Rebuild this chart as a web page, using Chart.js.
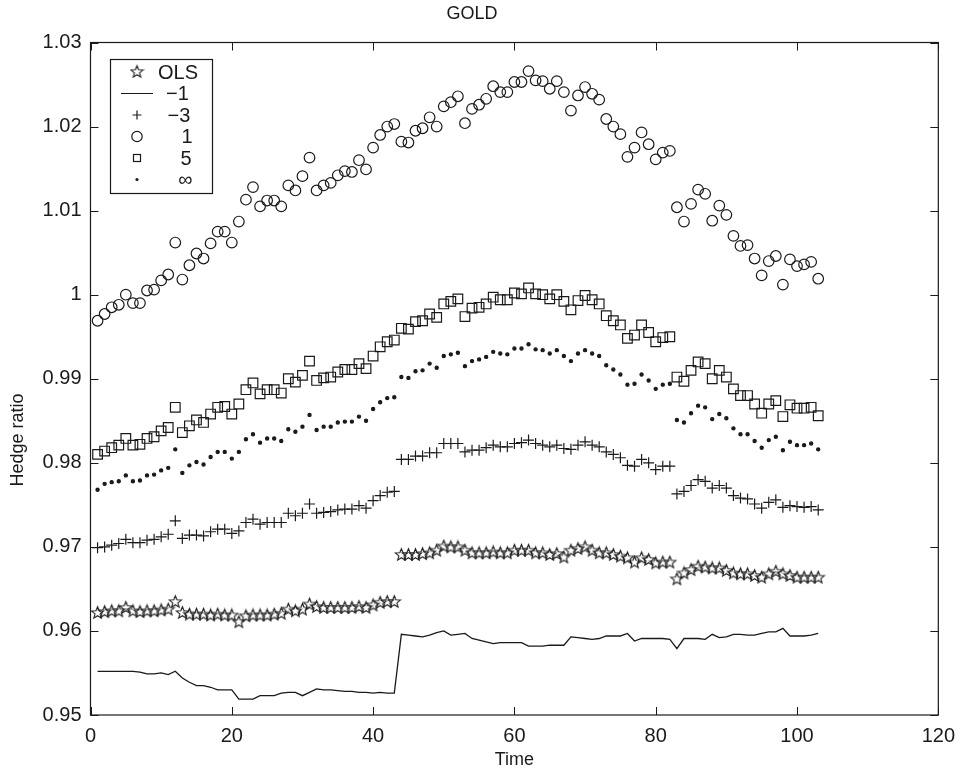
<!DOCTYPE html>
<html>
<head>
<meta charset="utf-8">
<title>GOLD</title>
<script src="https://cdn.jsdelivr.net/npm/chart.js@4/dist/chart.umd.min.js"></script>
<style>
  html, body { margin: 0; padding: 0; background: #fff; }
  #chart { display: block; }
</style>
</head>
<body>
<canvas id="chart" width="964" height="774"></canvas>
<script>
// 時刻 (x軸)
const timeIndex = [
  1, 2, 3, 4, 5, 6, 7, 8, 9, 10, 11, 12, 13, 14, 15, 16, 17, 18, 19, 20,
  21, 22, 23, 24, 25, 26, 27, 28, 29, 30, 31, 32, 33, 34, 35, 36, 37, 38, 39, 40,
  41, 42, 43, 44, 45, 46, 47, 48, 49, 50, 51, 52, 53, 54, 55, 56, 57, 58, 59, 60,
  61, 62, 63, 64, 65, 66, 67, 68, 69, 70, 71, 72, 73, 74, 75, 76, 77, 78, 79, 80,
  81, 82, 83, 84, 85, 86, 87, 88, 89, 90, 91, 92, 93, 94, 95, 96, 97, 98, 99, 100,
  101, 102, 103
];

// OLS (星)
const olsRatio = [
  0.9622, 0.9623, 0.9624, 0.9624, 0.9628, 0.9624, 0.9623, 0.9624, 0.9624, 0.9625,
  0.9626, 0.9635, 0.9622, 0.9620, 0.9620, 0.9620, 0.9619, 0.9620, 0.9619, 0.9619,
  0.9611, 0.9618, 0.9619, 0.9619, 0.9619, 0.9620, 0.9621, 0.9626, 0.9624, 0.9626,
  0.9632, 0.9629, 0.9628, 0.9628, 0.9628, 0.9628, 0.9628, 0.9629, 0.9628, 0.9631,
  0.9634, 0.9635, 0.9635, 0.9691, 0.9691, 0.9691, 0.9692, 0.9693, 0.9696, 0.9701,
  0.9700, 0.9700, 0.9696, 0.9693, 0.9693, 0.9693, 0.9694, 0.9693, 0.9693, 0.9696,
  0.9696, 0.9696, 0.9693, 0.9693, 0.9691, 0.9692, 0.9688, 0.9696, 0.9698, 0.9700,
  0.9696, 0.9693, 0.9693, 0.9691, 0.9689, 0.9687, 0.9682, 0.9687, 0.9685, 0.9681,
  0.9682, 0.9682, 0.9662, 0.9669, 0.9673, 0.9677, 0.9676, 0.9675, 0.9675, 0.9672,
  0.9669, 0.9668, 0.9668, 0.9666, 0.9664, 0.9668, 0.9671, 0.9668, 0.9666, 0.9664,
  0.9664, 0.9664, 0.9664
];

// −1 (実線)
const ratioM1 = [
  0.9552, 0.9552, 0.9552, 0.9552, 0.9552, 0.9552, 0.9551, 0.9549, 0.9549, 0.9550,
  0.9548, 0.9552, 0.9544, 0.9539, 0.9535, 0.9535, 0.9533, 0.9530, 0.9530, 0.9530,
  0.9519, 0.9519, 0.9519, 0.9523, 0.9523, 0.9523, 0.9526, 0.9527, 0.9527, 0.9523,
  0.9527, 0.9531, 0.9530, 0.9530, 0.9529, 0.9528, 0.9528, 0.9527, 0.9527, 0.9526,
  0.9527, 0.9526, 0.9526, 0.9596, 0.9595, 0.9594, 0.9593, 0.9595, 0.9598, 0.9600,
  0.9595, 0.9596, 0.9597, 0.9591, 0.9589, 0.9587, 0.9585, 0.9586, 0.9586, 0.9586,
  0.9586, 0.9582, 0.9582, 0.9582, 0.9583, 0.9583, 0.9583, 0.9593, 0.9592, 0.9591,
  0.9590, 0.9591, 0.9594, 0.9594, 0.9594, 0.9597, 0.9588, 0.9591, 0.9591, 0.9591,
  0.9591, 0.9590, 0.9579, 0.9591, 0.9591, 0.9591, 0.9590, 0.9596, 0.9592, 0.9593,
  0.9596, 0.9596, 0.9595, 0.9595, 0.9597, 0.9599, 0.9599, 0.9603, 0.9594, 0.9594,
  0.9594, 0.9595, 0.9597
];

// −3 (十字)
const ratioM3 = [
  0.9699, 0.9700, 0.9702, 0.9704, 0.9709, 0.9705, 0.9705, 0.9708, 0.9709, 0.9712,
  0.9715, 0.9731, 0.9710, 0.9714, 0.9714, 0.9713, 0.9718, 0.9721, 0.9721, 0.9716,
  0.9719, 0.9729, 0.9733, 0.9727, 0.9729, 0.9729, 0.9729, 0.9740, 0.9737, 0.9740,
  0.9751, 0.9740, 0.9741, 0.9742, 0.9744, 0.9745, 0.9745, 0.9749, 0.9746, 0.9755,
  0.9761, 0.9765, 0.9766, 0.9804, 0.9804, 0.9808, 0.9808, 0.9812, 0.9812, 0.9823,
  0.9823, 0.9823, 0.9813, 0.9815, 0.9815, 0.9818, 0.9821, 0.9819, 0.9819, 0.9823,
  0.9824, 0.9827, 0.9823, 0.9821, 0.9819, 0.9821, 0.9817, 0.9816, 0.9821, 0.9825,
  0.9821, 0.9819, 0.9813, 0.9810, 0.9806, 0.9797, 0.9796, 0.9804, 0.9800, 0.9792,
  0.9796, 0.9796, 0.9763, 0.9766, 0.9773, 0.9780, 0.9778, 0.9770, 0.9773, 0.9770,
  0.9761, 0.9758, 0.9757, 0.9751, 0.9746, 0.9753, 0.9756, 0.9747, 0.9749, 0.9748,
  0.9747, 0.9748, 0.9744
];

// 1 (丸)
const ratioP1 = [
  0.9969, 0.9977, 0.9985, 0.9988, 1.0000, 0.9990, 0.9990, 1.0005, 1.0006, 1.0017,
  1.0024, 1.0062, 1.0018, 1.0035, 1.0049, 1.0043, 1.0061, 1.0075, 1.0075, 1.0062,
  1.0087, 1.0113, 1.0128, 1.0105, 1.0112, 1.0112, 1.0105, 1.0130, 1.0124, 1.0141,
  1.0163, 1.0124, 1.0130, 1.0133, 1.0142, 1.0147, 1.0146, 1.0160, 1.0149, 1.0175,
  1.0190, 1.0200, 1.0203, 1.0182, 1.0181, 1.0195, 1.0198, 1.0211, 1.0200, 1.0224,
  1.0229, 1.0236, 1.0204, 1.0221, 1.0226, 1.0233, 1.0248, 1.0241, 1.0241, 1.0253,
  1.0253, 1.0266, 1.0255, 1.0254, 1.0245, 1.0254, 1.0241, 1.0219, 1.0237, 1.0247,
  1.0239, 1.0232, 1.0209, 1.0200, 1.0191, 1.0164, 1.0175, 1.0193, 1.0179, 1.0161,
  1.0169, 1.0171, 1.0104, 1.0087, 1.0108, 1.0125, 1.0120, 1.0088, 1.0106, 1.0095,
  1.0070, 1.0058, 1.0059, 1.0043, 1.0023, 1.0040, 1.0046, 1.0012, 1.0042, 1.0034,
  1.0036, 1.0039, 1.0019
];

// 5 (四角)
const ratioP5 = [
  0.9810, 0.9814, 0.9818, 0.9821, 0.9829, 0.9821, 0.9822, 0.9829, 0.9831, 0.9838,
  0.9842, 0.9866, 0.9836, 0.9844, 0.9851, 0.9848, 0.9858, 0.9866, 0.9867, 0.9858,
  0.9870, 0.9887, 0.9895, 0.9882, 0.9887, 0.9887, 0.9883, 0.9900, 0.9896, 0.9904,
  0.9921, 0.9898, 0.9901, 0.9902, 0.9908, 0.9911, 0.9911, 0.9918, 0.9912, 0.9927,
  0.9938, 0.9944, 0.9946, 0.9960, 0.9959, 0.9968, 0.9969, 0.9977, 0.9973, 0.9989,
  0.9992, 0.9995, 0.9974, 0.9984, 0.9985, 0.9989, 0.9997, 0.9994, 0.9994, 1.0002,
  1.0001, 1.0008, 1.0001, 1.0000, 0.9995, 1.0000, 0.9992, 0.9982, 0.9993, 0.9999,
  0.9994, 0.9989, 0.9975, 0.9969, 0.9964, 0.9948, 0.9952, 0.9964, 0.9955, 0.9944,
  0.9949, 0.9950, 0.9902, 0.9897, 0.9910, 0.9920, 0.9918, 0.9900, 0.9910, 0.9902,
  0.9888, 0.9880, 0.9880, 0.9870, 0.9859, 0.9870, 0.9874, 0.9855, 0.9869, 0.9865,
  0.9865, 0.9866, 0.9856
];

// ∞ (点)
const ratioInf = [
  0.9768, 0.9775, 0.9777, 0.9778, 0.9785, 0.9778, 0.9779, 0.9785, 0.9786, 0.9791,
  0.9794, 0.9816, 0.9788, 0.9797, 0.9801, 0.9798, 0.9807, 0.9813, 0.9813, 0.9805,
  0.9813, 0.9828, 0.9834, 0.9824, 0.9829, 0.9829, 0.9826, 0.9840, 0.9837, 0.9843,
  0.9857, 0.9839, 0.9843, 0.9843, 0.9848, 0.9849, 0.9849, 0.9855, 0.9850, 0.9864,
  0.9872, 0.9877, 0.9878, 0.9902, 0.9901, 0.9909, 0.9910, 0.9918, 0.9913, 0.9927,
  0.9929, 0.9931, 0.9915, 0.9921, 0.9923, 0.9926, 0.9932, 0.9930, 0.9929, 0.9936,
  0.9936, 0.9941, 0.9935, 0.9934, 0.9930, 0.9934, 0.9927, 0.9921, 0.9930, 0.9934,
  0.9930, 0.9927, 0.9916, 0.9911, 0.9905, 0.9893, 0.9894, 0.9905, 0.9898, 0.9888,
  0.9893, 0.9894, 0.9851, 0.9848, 0.9859, 0.9868, 0.9866, 0.9852, 0.9858, 0.9853,
  0.9841, 0.9834, 0.9834, 0.9826, 0.9818, 0.9827, 0.9831, 0.9815, 0.9825, 0.9821,
  0.9821, 0.9823, 0.9816
];

// 凡例ラベル
const legendLabels = ['OLS', '\u22121', '\u22123', '1', '5', '\u221E'];

const ink = '#1a1a1a';
const fontFamily = "'Liberation Sans', Arial, Helvetica, sans-serif";
Chart.defaults.font.family = fontFamily;
Chart.defaults.color = ink;

// 星マーカーを自前で作る(Chart.jsの'star'は五芒星じゃないので)
function makeStar() {
  const c = document.createElement('canvas');
  c.width = 15;
  c.height = 15;
  const g = c.getContext('2d');
  g.strokeStyle = ink;
  g.lineWidth = 1.1;
  g.lineJoin = 'miter';
  g.beginPath();
  for (let i = 0; i < 10; i++) {
    const r = i % 2 ? 2.7 : 6.3;
    const a = -Math.PI / 2 + i * Math.PI / 5;
    const px = 7.5 + r * Math.cos(a);
    const py = 8 + r * Math.sin(a);
    if (i === 0) g.moveTo(px, py); else g.lineTo(px, py);
  }
  g.closePath();
  g.stroke();
  return c;
}
const starImg = makeStar();

function markerSet(label, values, style, radius, fill) {
  return {
    label: label,
    data: values,
    showLine: false,
    pointStyle: style,
    pointRadius: radius,
    pointBorderWidth: 1.2,
    pointBorderColor: ink,
    pointBackgroundColor: fill || 'rgba(0,0,0,0)',
    pointHoverRadius: radius
  };
}

const datasets = [
  markerSet(legendLabels[0], olsRatio, starImg, 6),
  {
    label: legendLabels[1],
    data: ratioM1,
    borderColor: ink,
    borderWidth: 1.3,
    pointRadius: 0,
    tension: 0
  },
  markerSet(legendLabels[2], ratioM3, 'cross', 5.5),
  markerSet(legendLabels[3], ratioP1, 'circle', 5.3),
  markerSet(legendLabels[4], ratioP5, 'rect', 6.8),
  markerSet(legendLabels[5], ratioInf, 'circle', 1.6, ink)
];

// 枠・内向きの目盛り・縦軸ラベル・凡例を描くプラグイン
const frame = {
  id: 'frame',
  afterDraw(chart) {
    const { ctx, chartArea: a, scales } = chart;
    const t = 8;
    ctx.save();
    ctx.strokeStyle = ink;
    ctx.lineWidth = 1.2;
    ctx.strokeRect(a.left, a.top, a.right - a.left, a.bottom - a.top);
    ctx.lineWidth = 1;
    ctx.beginPath();
    scales.x.ticks.forEach(tk => {
      const x = Math.round(scales.x.getPixelForValue(tk.value)) + 0.5;
      ctx.moveTo(x, a.bottom); ctx.lineTo(x, a.bottom - t);
      ctx.moveTo(x, a.top); ctx.lineTo(x, a.top + t);
    });
    scales.y.ticks.forEach(tk => {
      const y = Math.round(scales.y.getPixelForValue(tk.value)) + 0.5;
      ctx.moveTo(a.left, y); ctx.lineTo(a.left + t, y);
      ctx.moveTo(a.right, y); ctx.lineTo(a.right - t, y);
    });
    ctx.stroke();

    // 縦軸ラベル(少し下寄せ)
    ctx.save();
    ctx.translate(18, 440);
    ctx.rotate(-Math.PI / 2);
    ctx.fillStyle = ink;
    ctx.font = '18px ' + fontFamily;
    ctx.textAlign = 'center';
    ctx.textBaseline = 'middle';
    ctx.fillText('Hedge ratio', 0, 0);
    ctx.restore();

    // 凡例
    const bx = 110.5, by = 59.5, bw = 102, bh = 134;
    ctx.fillStyle = '#fff';
    ctx.fillRect(bx, by, bw, bh);
    ctx.strokeStyle = ink;
    ctx.lineWidth = 1.2;
    ctx.strokeRect(bx, by, bw, bh);
    const rows = [72, 93.5, 115, 136.5, 158, 179.5];
    const sx = 137;
    // 記号
    ctx.drawImage(starImg, sx - 7.5, rows[0] - 8);
    ctx.beginPath();
    ctx.moveTo(121, rows[1]); ctx.lineTo(153, rows[1]);
    ctx.moveTo(sx - 4.5, rows[2]); ctx.lineTo(sx + 4.5, rows[2]);
    ctx.moveTo(sx, rows[2] - 4.5); ctx.lineTo(sx, rows[2] + 4.5);
    ctx.stroke();
    ctx.beginPath();
    ctx.arc(sx, rows[3], 5.2, 0, Math.PI * 2);
    ctx.stroke();
    ctx.strokeRect(sx - 3.5, rows[4] - 3.5, 7, 7);
    ctx.beginPath();
    ctx.arc(sx, rows[5], 1.6, 0, Math.PI * 2);
    ctx.fillStyle = ink;
    ctx.fill();
    // 文字
    ctx.fillStyle = ink;
    ctx.font = '20px ' + fontFamily;
    ctx.textBaseline = 'middle';
    ctx.textAlign = 'center';
    const cx = [178, 177.5, 179, 187, 186, 185.5];
    legendLabels.forEach((s, i) => ctx.fillText(s, cx[i], rows[i] + 1));
    ctx.restore();
  }
};

const ctx = document.getElementById('chart');
const chart = new Chart(ctx, {
  type: 'line',
  data: { labels: timeIndex, datasets: datasets },
  options: {
    responsive: false,
    animation: false,
    events: [],
    layout: { padding: { left: 0, right: 20, top: 0, bottom: 0 } },
    plugins: {
      legend: { display: false },
      tooltip: { enabled: false },
      title: {
        display: true,
        text: 'GOLD',
        color: ink,
        font: { size: 18, weight: 'normal' },
        padding: { top: 3.2, bottom: 17.7 }
      }
    },
    scales: {
      x: {
        type: 'linear',
        min: 0,
        max: 120,
        grid: { display: false, drawTicks: false },
        border: { display: false },
        ticks: { stepSize: 20, padding: 9, maxRotation: 0, font: { size: 20 }, color: ink },
        title: { display: true, text: 'Time', color: ink, font: { size: 18 }, padding: { top: 0, bottom: 3.2 } },
        afterFit: s => { s.height = 59; }
      },
      y: {
        min: 0.95,
        max: 1.03,
        grid: { display: false, drawTicks: false },
        border: { display: false },
        ticks: {
          stepSize: 0.01,
          padding: 9,
          font: { size: 20 },
          color: ink,
          callback: v => String(parseFloat(v.toFixed(2)))
        },
        afterFit: s => { s.width = 90.5; }
      }
    }
  },
  plugins: [frame]
});
</script>
</body>
</html>
